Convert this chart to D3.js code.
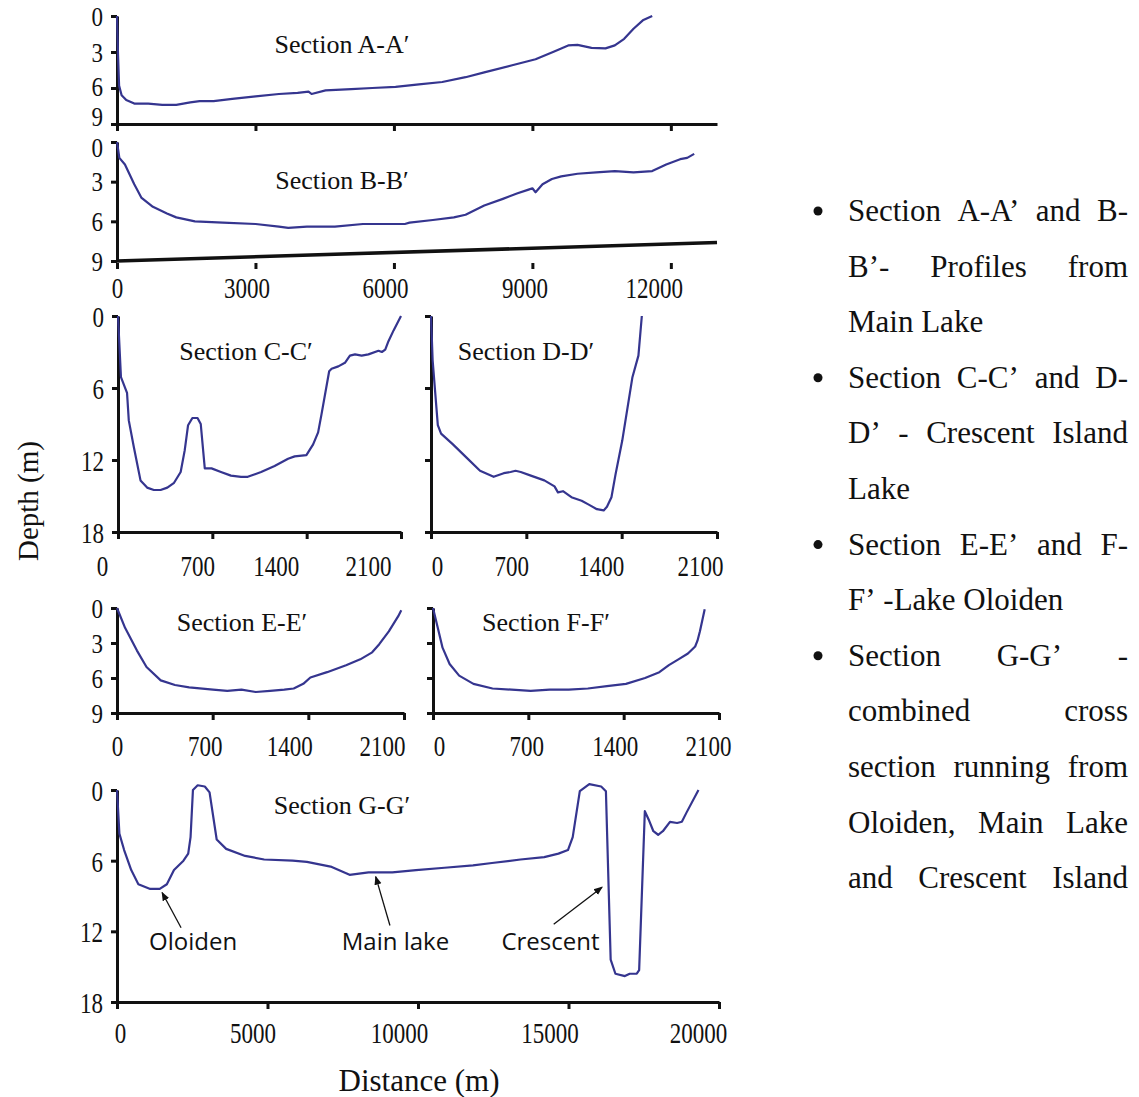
<!DOCTYPE html>
<html>
<head>
<meta charset="utf-8">
<script src="https://cdn.jsdelivr.net/npm/d3@7"></script>
<style>
body { margin: 0; background: #fff; }
svg text { font-family: "Liberation Serif", "Times New Roman", serif; fill: #111; }
</style>
</head>
<body>
<svg width="1139" height="1097"></svg>
<script>
// ---- data (distance in m, depth in m) ----
const aDist  = [0, 20, 45, 100, 200, 374, 677, 981, 1284, 1587, 1790, 2093, 2497, 3003, 3508, 3913, 4150, 4216, 4519, 5075, 5530, 6036, 6541, 7047, 7552, 7957, 8563, 9069, 9473, 9776, 9978, 10281, 10584, 10786, 10989, 11191, 11393, 11596];
const aDepth = [0, 3.0, 5.8, 6.6, 7.0, 7.3, 7.3, 7.4, 7.4, 7.2, 7.1, 7.1, 6.9, 6.7, 6.5, 6.4, 6.3, 6.5, 6.2, 6.1, 6.0, 5.9, 5.7, 5.5, 5.1, 4.7, 4.1, 3.6, 2.95, 2.45, 2.4, 2.65, 2.7, 2.45, 1.9, 1.06, 0.36, 0];

const bDist  = [0, 51, 172, 374, 526, 778, 1082, 1284, 1688, 2295, 3003, 3508, 3710, 4115, 4721, 5328, 5833, 6237, 6339, 6844, 7299, 7552, 7957, 8361, 8664, 8917, 9000, 9069, 9220, 9423, 9625, 9978, 10383, 10787, 11191, 11596, 11899, 12202, 12354, 12506];
const bDepth = [0, 1.2, 1.7, 3.2, 4.2, 4.9, 5.4, 5.7, 6.0, 6.1, 6.2, 6.4, 6.5, 6.4, 6.4, 6.2, 6.2, 6.2, 6.1, 5.9, 5.7, 5.5, 4.8, 4.3, 3.9, 3.6, 3.5, 3.8, 3.2, 2.8, 2.6, 2.4, 2.3, 2.2, 2.3, 2.2, 1.7, 1.3, 1.2, 0.9];

const cDist  = [0, 22, 67, 80, 117, 167, 216, 266, 316, 366, 416, 465, 495, 520, 552, 590, 614, 644, 694, 764, 838, 913, 963, 1062, 1162, 1262, 1311, 1398, 1448, 1485, 1510, 1567, 1585, 1635, 1684, 1721, 1759, 1808, 1858, 1933, 1958, 1983, 2007, 2045, 2100];
const cDepth = [0, 5.1, 6.4, 8.7, 10.9, 13.7, 14.3, 14.5, 14.5, 14.3, 13.9, 13.0, 11.2, 9.1, 8.5, 8.5, 9.0, 12.7, 12.7, 13.0, 13.3, 13.4, 13.4, 13.0, 12.5, 11.9, 11.7, 11.6, 10.7, 9.7, 8.2, 4.6, 4.4, 4.2, 3.9, 3.3, 3.2, 3.3, 3.2, 2.9, 3.0, 2.8, 2.1, 1.2, 0];

const dDist  = [0, 12, 50, 74, 161, 261, 360, 460, 534, 584, 621, 659, 733, 832, 907, 932, 969, 1031, 1106, 1155, 1218, 1268, 1292, 1325, 1355, 1404, 1479, 1523, 1548];
const dDepth = [0, 3.7, 9.1, 9.8, 10.7, 11.8, 12.9, 13.4, 13.1, 13.0, 12.9, 13.0, 13.3, 13.7, 14.2, 14.7, 14.6, 15.1, 15.4, 15.7, 16.1, 16.2, 15.9, 15.1, 13.2, 10.4, 5.1, 3.3, 0];

const eDist  = [0, 59, 146, 216, 320, 424, 528, 702, 807, 911, 1015, 1120, 1224, 1293, 1363, 1415, 1537, 1676, 1780, 1867, 1919, 1989, 2058, 2080];
const eDepth = [0, 1.7, 3.65, 5.06, 6.2, 6.6, 6.8, 7.0, 7.1, 7.0, 7.2, 7.1, 7.0, 6.9, 6.5, 5.96, 5.5, 4.9, 4.4, 3.8, 3.1, 2.0, 0.7, 0.2];

const fDist  = [0, 35, 70, 122, 192, 297, 437, 577, 717, 857, 997, 1137, 1277, 1417, 1557, 1662, 1732, 1802, 1872, 1925, 1942, 1960, 1995];
const fDepth = [0, 1.7, 3.4, 4.8, 5.8, 6.5, 6.9, 7.0, 7.1, 7.0, 7.0, 6.9, 6.7, 6.5, 6.0, 5.5, 4.9, 4.4, 3.9, 3.3, 2.8, 2.0, 0.1];

const gDist  = [0, 79, 237, 473, 710, 1104, 1419, 1656, 1893, 2208, 2366, 2444, 2523, 2681, 2917, 3075, 3312, 3627, 4258, 4889, 5835, 6308, 7097, 7727, 8358, 9147, 9935, 10881, 11827, 12458, 13404, 14193, 14666, 14982, 15140, 15376, 15691, 16085, 16243, 16401, 16559, 16874, 17032, 17268, 17347, 17536, 17662, 17820, 17978, 18135, 18372, 18609, 18766, 18924, 19318];
const gDepth = [0, 3.7, 5.1, 6.8, 8.0, 8.4, 8.4, 8.0, 6.8, 6.0, 5.4, 4.0, 0, -0.4, -0.3, 0.2, 4.2, 5.0, 5.6, 5.9, 6.0, 6.1, 6.5, 7.2, 7.0, 7.0, 6.8, 6.6, 6.4, 6.2, 5.9, 5.7, 5.4, 5.1, 4.0, 0.1, -0.5, -0.3, 0.1, 14.4, 15.6, 15.8, 15.6, 15.6, 15.3, 1.8, 2.5, 3.5, 3.8, 3.5, 2.7, 2.8, 2.7, 1.9, 0];

// tick values
const mainTicks = [0, 3000, 6000, 9000, 12000];
const smallTicks = [0, 700, 1400, 2100];
const gTicks = [0, 5000, 10000, 15000, 20000];
const shallowDepthTicks = [0, 3, 6, 9];
const deepDepthTicks = [0, 6, 12, 18];

// annotations in section G (label, label position, arrow tail, arrow head)
const gLabels   = ['Oloiden', 'Main lake', 'Crescent'];
const gLabelPos = [[2530, 13.55], [9250, 13.55], [14400, 13.55]];
const gArrowFrom = [[2129, 11.7], [9068, 11.5], [14508, 11.4]];
const gArrowTo   = [[1498, 8.7], [8595, 7.35], [16117, 8.25]];

// text on the right side
const noteLines = [
    'Section A-A’ and B-', 'B’- Profiles from', 'Main Lake',
    'Section C-C’ and D-', 'D’ - Crescent Island', 'Lake',
    'Section E-E’ and F-', 'F’ -Lake Oloiden',
    'Section G-G’ -', 'combined cross', 'section running from', 'Oloiden, Main Lake', 'and Crescent Island'
];
const noteBullet  = [1, 0, 0, 1, 0, 0, 1, 0, 1, 0, 0, 0, 0];
const noteJustify = [1, 1, 0, 1, 1, 0, 1, 0, 1, 1, 1, 1, 1];

const lineColor = '#35358f';
const svg = d3.select('svg');

svg.append('defs').append('marker')
    .attr('id', 'arrow')
    .attr('viewBox', '0 0 10 10')
    .attr('refX', 9).attr('refY', 5)
    .attr('markerWidth', 9).attr('markerHeight', 9)
    .attr('markerUnits', 'userSpaceOnUse')
    .attr('orient', 'auto')
    .append('path').attr('d', 'M0,1 L10,5 L0,9 Z').attr('fill', '#111');

// panel layout (labels in the scan are tall and narrow, hence the stretch factors)
const panels = [
    {dist: aDist, depth: aDepth, title: 'Section A-A′', tx: 342, ty: 44,
     x0: 117, x1: 717, xMax: 13000, y0: 16, y1: 124, yMax: 9,
     xTicks: mainTicks, yTicks: shallowDepthTicks, xLabels: false, yLabels: true,
     yStretch: 1.15, yNudge: [0, 0, -2, -8]},
    {dist: bDist, depth: bDepth, title: 'Section B-B′', tx: 342, ty: 180,
     x0: 117, x1: 717, xMax: 13000, y0: 142, y1: 261, yMax: 9,
     xTicks: mainTicks, yTicks: shallowDepthTicks, xLabels: true, yLabels: true,
     labelY: 27, shift: [0, -9, -9, -8, -17], slantEnd: 7.6,
     yStretch: 1.15, yNudge: [5, 0, 0, 0]},
    {dist: cDist, depth: cDepth, title: 'Section C-C′', tx: 246, ty: 351,
     x0: 118, x1: 401, xMax: 2100, y0: 316, y1: 532, yMax: 18,
     xTicks: smallTicks, yTicks: deepDepthTicks, xLabels: true, yLabels: true,
     labelY: 34, shift: [-16, -15, -31, -33], yStretch: 1.3},
    {dist: dDist, depth: dDepth, title: 'Section D-D′', tx: 526, ty: 351,
     x0: 431, x1: 717, xMax: 2100, y0: 316, y1: 532, yMax: 18,
     xTicks: smallTicks, yTicks: deepDepthTicks, xLabels: true, yLabels: false,
     labelY: 34, shift: [6, -15, -21, -17], yStretch: 1.3},
    {dist: eDist, depth: eDepth, title: 'Section E-E′', tx: 242, ty: 622,
     x0: 117, x1: 404, xMax: 2100, y0: 608, y1: 713, yMax: 9,
     xTicks: smallTicks, yTicks: shallowDepthTicks, xLabels: true, yLabels: true,
     labelY: 33, shift: [0, -8, -19, -22], yStretch: 1.15},
    {dist: fDist, depth: fDepth, title: 'Section F-F′', tx: 546, ty: 622,
     x0: 433, x1: 719, xMax: 2100, y0: 608, y1: 713, yMax: 9,
     xTicks: smallTicks, yTicks: shallowDepthTicks, xLabels: true, yLabels: false,
     labelY: 33, shift: [6, -2, -9, -11], yStretch: 1.15},
    {dist: gDist, depth: gDepth, title: 'Section G-G′', tx: 342, ty: 805,
     x0: 117, x1: 719, xMax: 20000, y0: 790, y1: 1002, yMax: 18,
     xTicks: gTicks, yTicks: deepDepthTicks, xLabels: true, yLabels: true,
     labelY: 31, shift: [3, -15, -19, -19, -21], yStretch: 1.3, notes: true}
];

panels.forEach(drawPanel);

function styleAxis(sel) {
    sel.attr('font-family', null).attr('font-size', null);
    sel.select('.domain').attr('stroke', '#111').attr('stroke-width', 3);
    sel.selectAll('.tick line').attr('stroke', '#111').attr('stroke-width', 3);
    sel.selectAll('.tick text').style('font-size', '23px');
}

function drawPanel(p) {
    let xScale = d3.scaleLinear().domain([0, p.xMax]).range([p.x0, p.x1]);
    let yScale = d3.scaleLinear().domain([0, p.yMax]).range([p.y0, p.y1]);
    let g = svg.append('g');

    // x axis
    let xAxis = d3.axisBottom(xScale)
                    .tickValues(p.xTicks)
                    .tickFormat(d3.format('d'))
                    .tickSize(7)
                    .tickSizeOuter(0);
    if (!p.xLabels) xAxis.tickFormat('');
    let gx = g.append('g')
        .attr('transform', `translate(0, ${p.y1})`)
        .call(xAxis)
        .call(styleAxis);
    gx.selectAll('.tick text')
        .attr('x', null)
        .attr('y', null)
        .attr('dy', '0.35em')
        .attr('transform', (d, i) => `translate(${p.shift ? p.shift[i] : 0}, ${p.labelY || 0}) scale(1,1.3)`);

    if (p.slantEnd !== undefined) {
        // the bottom line of section B runs slightly uphill
        gx.select('.domain').remove();
        gx.selectAll('.tick line').attr('y1', 2).attr('y2', 8);
        g.append('path')
            .datum([[0, p.yMax], [p.xMax, p.slantEnd]])
            .attr('d', d3.line().x(d => xScale(d[0])).y(d => yScale(d[1])))
            .attr('stroke', '#111')
            .attr('stroke-width', 3.5)
            .attr('fill', 'none');
    }

    // y axis
    let yAxis = d3.axisLeft(yScale)
                    .tickValues(p.yTicks)
                    .tickSize(6)
                    .tickSizeOuter(0);
    if (!p.yLabels) yAxis.tickFormat('');
    let gy = g.append('g')
        .attr('transform', `translate(${p.x0}, 0)`)
        .call(yAxis)
        .call(styleAxis);
    gy.selectAll('.tick text')
        .attr('x', null)
        .attr('dy', '0.35em')
        .attr('transform', (d, i) => `translate(-14, ${p.yNudge ? p.yNudge[i] : 0}) scale(1,${p.yStretch})`);

    // profile
    g.append('path')
        .datum(d3.zip(p.dist, p.depth))
        .attr('d', d3.line().x(d => xScale(d[0])).y(d => yScale(d[1])))
        .attr('fill', 'none')
        .attr('stroke', lineColor)
        .attr('stroke-width', 2.2)
        .attr('stroke-linejoin', 'round');

    g.append('text')
        .text(p.title)
        .attr('x', p.tx)
        .attr('y', p.ty)
        .attr('dy', '0.35em')
        .attr('text-anchor', 'middle')
        .style('font-size', '26px');

    if (p.notes) {
        gLabels.forEach((lbl, i) => {
            g.append('line')
                .attr('x1', xScale(gArrowFrom[i][0])).attr('y1', yScale(gArrowFrom[i][1]))
                .attr('x2', xScale(gArrowTo[i][0])).attr('y2', yScale(gArrowTo[i][1]))
                .attr('stroke', '#111')
                .attr('stroke-width', 1.3)
                .attr('marker-end', 'url(#arrow)');
            g.append('text')
                .text(lbl)
                .attr('x', xScale(gLabelPos[i][0]))
                .attr('y', yScale(gLabelPos[i][1]))
                .attr('text-anchor', 'middle')
                .style('font-family', '"Open Sans", "Noto Sans", sans-serif')
                .style('font-size', '24px');
        });
    }
}

// axis titles
svg.append('text')
    .text('Depth (m)')
    .attr('transform', 'translate(28, 501) rotate(-90)')
    .attr('text-anchor', 'middle')
    .attr('dy', '0.35em')
    .style('font-size', '29px');

svg.append('text')
    .text('Distance (m)')
    .attr('x', 419)
    .attr('y', 1080)
    .attr('dy', '0.35em')
    .attr('text-anchor', 'middle')
    .style('font-size', '31px');

// bullet notes, justified like the source document
const noteLeft = 848, noteRight = 1128, noteTop = 221, noteStep = 55.6;
noteLines.forEach((line, i) => {
    let yPos = noteTop + i * noteStep;
    if (noteBullet[i]) {
        svg.append('circle')
            .attr('cx', 818).attr('cy', yPos - 10)
            .attr('r', 4.5).attr('fill', '#111');
    }
    let words = line.split(' ');
    let nodes = words.map(w => svg.append('text')
                    .text(w)
                    .attr('y', yPos)
                    .style('font-size', '31px'));
    let widths = nodes.map(n => n.node().getComputedTextLength());
    let total = d3.sum(widths);
    let gap = (noteJustify[i] && words.length > 1)
                ? (noteRight - noteLeft - total) / (words.length - 1)
                : 31 * 0.25;
    let cursor = noteLeft;
    nodes.forEach((n, k) => {
        n.attr('x', cursor);
        cursor += widths[k] + gap;
    });
});
</script>
</body>
</html>
